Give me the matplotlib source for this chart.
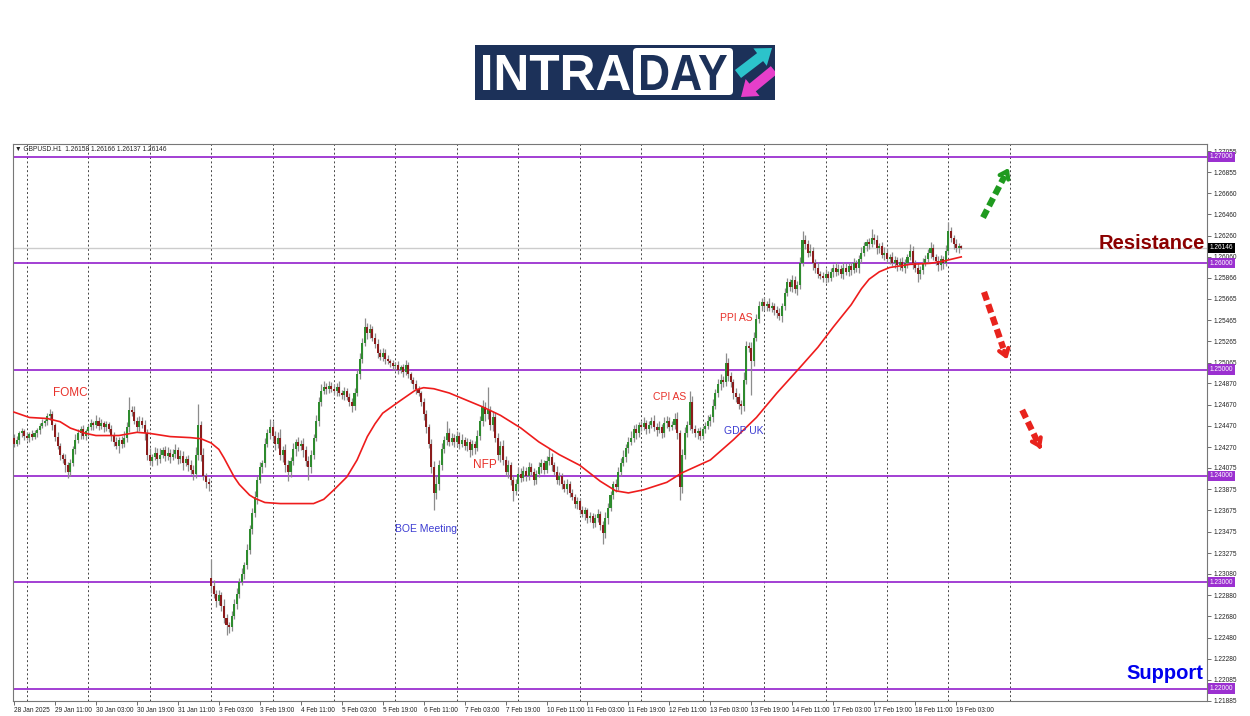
import numpy as np
import matplotlib
matplotlib.use("Agg")
import matplotlib.pyplot as plt
from matplotlib.patches import Rectangle, FancyBboxPatch, FancyArrow, PathPatch
from matplotlib.textpath import TextPath
from matplotlib.font_manager import FontProperties
from matplotlib.transforms import Affine2D, blended_transform_factory

# GBPUSD H1, 28 Jan 19:00 -> 19 Feb 2025
# prices are in pips above 1.20000 (1 pip = 0.0001)
BASE, PIP = 1.2, 0.0001

first_open = 436
gap_opens = {77: 304}  # Monday 3 Feb opened with a gap down

# closes, one row per trading day (first row = 28 Jan evening)
closes = [
    430, 434, 440, 442, 438,
    436, 439, 437, 440, 443, 447, 450, 452, 456, 458, 448, 437, 428, 420, 416, 410, 404, 412, 425, 434, 440, 444, 438, 442,
    446, 450, 448, 452, 447, 450, 446, 449, 444, 438, 432, 428, 434, 430, 436, 446, 462, 460, 452, 446, 452, 448, 440, 420,
    414, 418, 422, 416, 420, 424, 419, 422, 418, 421, 424, 416, 419, 412, 416, 410, 406, 402, 420, 448, 420, 400, 394, 392,
    296, 289, 282, 288, 278, 266, 260, 258, 268, 280, 289, 300, 308, 316, 330, 350, 365, 380, 396, 408, 412, 430, 440, 446,
    438, 430, 436, 420, 424, 410, 404, 414, 425, 432, 428, 430, 424, 414, 408, 420, 436, 452, 470, 480, 484, 482, 485, 482,
    480, 484, 478, 476, 480, 474, 470, 466, 478, 496, 510, 525, 540, 534, 538, 530, 524, 516, 512, 516, 510, 508, 506, 503,
    504, 500, 502, 498, 504, 496, 490, 486, 482, 478, 470, 458, 446, 430, 408, 384, 392, 410, 425, 434, 440, 432, 436, 432,
    438, 430, 434, 428, 432, 424, 430, 426, 438, 452, 465, 458, 462, 448, 455, 436, 420, 428, 415, 404, 410, 396, 386, 392,
    402, 398, 405, 400, 408, 404, 396, 402, 408, 412, 406, 414, 418, 410, 404, 396, 400, 392, 388, 392, 384, 380, 374, 376,
    368, 364, 368, 360, 362, 356, 360, 364, 354, 346, 360, 370, 382, 392, 390, 404, 412, 418, 426, 432, 436, 444, 440, 448,
    446, 450, 444, 448, 452, 446, 443, 446, 440, 450, 452, 446, 448, 454, 440, 390, 420, 440, 448, 470, 444, 440, 442, 438,
    444, 447, 452, 455, 466, 478, 486, 490, 488, 506, 494, 488, 478, 474, 468, 466, 490, 522, 520, 508, 530, 548, 560, 564,
    560, 562, 558, 560, 556, 553, 550, 560, 572, 582, 578, 584, 576, 580, 600, 622, 618, 610, 612, 600, 596, 590, 588, 586,
    590, 586, 592, 596, 592, 595, 590, 596, 592, 597, 594, 600, 596, 604, 610, 616, 620, 618, 624, 622, 614, 616, 608, 610,
    604, 606, 600, 603, 598, 601, 596, 600, 606, 612, 600, 596, 590, 594, 600, 604, 610, 614, 606, 602, 598, 604, 600, 612,
    630, 624, 618, 614, 616, 614.6,
]

# upper / lower wick length in pips beyond the body
wick_up = [
    3, 4, 2, 3, 2,
    3, 2, 4, 3, 2, 3, 4, 2, 3, 5, 3, 2, 4, 3, 2, 5, 3, 4, 3, 5, 4, 3, 4, 2,
    3, 4, 2, 5, 3, 4, 2, 3, 2, 4, 3, 5, 3, 4, 6, 5, 12, 4, 6, 3, 4, 3, 5, 4,
    6, 3, 5, 4, 6, 3, 4, 5, 3, 4, 6, 3, 5, 4, 3, 4, 5, 4, 7, 20, 4, 6, 3, 4,
    18, 6, 4, 5, 3, 6, 4, 3, 5, 4, 6, 4, 5, 3, 6, 4, 5, 6, 4, 5, 3, 6, 4, 8,
    6, 4, 5, 8, 4, 6, 5, 4, 6, 3, 5, 4, 6, 4, 5, 4, 3, 5, 4, 6, 5, 3, 4, 3,
    4, 3, 5, 3, 4, 3, 4, 3, 5, 4, 6, 5, 9, 4, 5, 3, 4, 5, 3, 4, 3, 4, 2, 3,
    3, 4, 2, 3, 5, 3, 2, 3, 4, 3, 2, 3, 4, 3, 5, 6, 8, 5, 6, 4, 12, 5, 4, 3,
    4, 3, 5, 3, 4, 3, 4, 3, 5, 4, 6, 5, 22, 4, 6, 5, 4, 5, 6, 4, 5, 3, 4, 5,
    6, 5, 4, 3, 5, 4, 3, 4, 5, 4, 3, 5, 8, 4, 3, 5, 4, 3, 4, 5, 3, 4, 3, 4,
    3, 4, 3, 2, 4, 3, 4, 5, 3, 4, 6, 5, 4, 3, 5, 4, 5, 6, 4, 5, 6, 4, 5, 3,
    4, 5, 3, 4, 3, 5, 4, 6, 3, 5, 4, 3, 4, 5, 6, 3, 5, 6, 4, 10, 5, 4, 3, 4,
    3, 4, 5, 3, 6, 4, 5, 6, 4, 10, 5, 4, 3, 5, 4, 3, 8, 5, 4, 6, 5, 4, 5, 3,
    4, 3, 5, 4, 3, 4, 5, 3, 5, 4, 3, 5, 4, 3, 6, 8, 5, 4, 6, 3, 4, 5, 3, 4,
    5, 3, 4, 3, 5, 4, 3, 5, 4, 3, 4, 5, 3, 4, 5, 4, 3, 4, 8, 4, 5, 3, 4, 5,
    4, 3, 5, 4, 3, 4, 5, 4, 3, 6, 4, 3, 4, 3, 5, 4, 3, 6, 4, 3, 5, 4, 3, 5,
    9, 4, 3, 5, 3, 1,
]
wick_dn = [
    3, 2, 4, 3, 4,
    2, 4, 3, 2, 3, 4, 2, 3, 4, 3, 5, 4, 3, 5, 4, 6, 6, 4, 3, 4, 3, 5, 3, 4,
    4, 3, 5, 3, 4, 3, 5, 4, 3, 5, 4, 3, 6, 4, 3, 4, 5, 4, 3, 5, 4, 3, 6, 5,
    4, 5, 3, 6, 4, 3, 5, 4, 6, 3, 4, 5, 4, 6, 3, 5, 4, 6, 4, 5, 6, 4, 5, 6,
    6, 4, 5, 3, 5, 4, 10, 6, 4, 3, 5, 4, 3, 5, 4, 3, 5, 4, 6, 3, 5, 4, 3, 5,
    5, 6, 4, 5, 7, 6, 9, 5, 4, 6, 5, 4, 6, 5, 12, 5, 4, 3, 5, 4, 3, 5, 4, 3,
    4, 5, 3, 4, 5, 3, 4, 6, 4, 3, 5, 4, 3, 5, 4, 3, 4, 5, 3, 4, 5, 3, 4, 3,
    3, 4, 3, 5, 3, 4, 3, 4, 5, 3, 4, 5, 6, 4, 5, 16, 6, 5, 4, 3, 5, 4, 3, 5,
    4, 5, 3, 4, 5, 6, 4, 5, 3, 4, 5, 6, 4, 5, 6, 4, 5, 7, 5, 4, 6, 5, 10, 4,
    5, 4, 3, 5, 4, 3, 5, 4, 3, 5, 4, 3, 4, 5, 3, 4, 5, 4, 3, 5, 4, 3, 4, 5,
    4, 3, 5, 4, 3, 5, 4, 3, 5, 10, 4, 5, 3, 4, 5, 3, 4, 3, 5, 4, 3, 4, 5, 3,
    4, 3, 5, 4, 3, 4, 5, 3, 4, 3, 5, 4, 3, 4, 5, 13, 6, 4, 3, 5, 4, 3, 5, 4,
    3, 4, 3, 5, 4, 3, 4, 5, 4, 3, 5, 4, 6, 4, 5, 8, 5, 4, 3, 32, 5, 3, 4, 5,
    4, 5, 3, 4, 5, 4, 3, 5, 4, 3, 4, 5, 4, 6, 4, 3, 5, 4, 3, 6, 5, 4, 3, 4,
    5, 4, 3, 5, 4, 3, 4, 5, 3, 4, 5, 3, 4, 5, 4, 3, 4, 5, 3, 4, 5, 4, 3, 5,
    4, 5, 3, 4, 5, 4, 3, 5, 4, 3, 5, 4, 8, 5, 4, 3, 4, 5, 3, 4, 5, 4, 5, 3,
    3, 4, 5, 3, 4, 1,
]

# moving average (red line), read at these bars
ma_bars = [0, 6, 13, 18, 22, 28, 32, 41, 48, 53, 61, 69, 73, 77, 80, 82, 84, 86, 88, 90,
           92, 94, 96, 98, 104, 112, 117, 121, 125, 130, 134, 138, 141, 144, 151, 157, 160, 164, 170, 177,
           183, 190, 198, 205, 213, 221, 229, 235, 240, 246, 255, 261, 272, 281, 290, 298, 307, 314, 320, 327,
           331, 334, 338, 342, 350, 358, 363, 370]
ma_vals = [460, 455, 454, 451, 445, 440, 438, 438, 441, 440, 437, 436, 435, 431, 425, 417, 408, 399, 392, 387,
           382, 379, 377, 375, 374, 374, 374, 378, 387, 399, 415, 437, 449, 459, 471, 481, 483, 482, 478, 471,
           465, 457, 445, 432, 420, 410, 395, 386, 384, 387, 394, 403, 415, 434, 455, 478, 502, 521, 540, 561,
           576, 585, 592, 596, 599, 600, 602, 606]

date_labels = ["28 Jan 2025", "29 Jan 11:00", "30 Jan 03:00", "30 Jan 19:00", "31 Jan 11:00",
               "3 Feb 03:00", "3 Feb 19:00", "4 Feb 11:00", "5 Feb 03:00", "5 Feb 19:00",
               "6 Feb 11:00", "7 Feb 03:00", "7 Feb 19:00", "10 Feb 11:00", "11 Feb 03:00",
               "11 Feb 19:00", "12 Feb 11:00", "13 Feb 03:00", "13 Feb 19:00", "14 Feb 11:00",
               "17 Feb 03:00", "17 Feb 19:00", "18 Feb 11:00", "19 Feb 03:00"]

price_ticks = [1.27055, 1.26855, 1.26660, 1.26460, 1.26260, 1.26060, 1.25866, 1.25665, 1.25465,
               1.25265, 1.25065, 1.24870, 1.24670, 1.24470, 1.24270, 1.24075, 1.23875, 1.23675,
               1.23475, 1.23275, 1.23080, 1.22880, 1.22680, 1.22480, 1.22280, 1.22085, 1.21885]
levels = [1.27, 1.26, 1.25, 1.24, 1.23, 1.22]
last_price = 1.26146
header = "▼ GBPUSD.H1  1.26158 1.26166 1.26137 1.26146"

RED, BLUE = "#e8312a", "#3c3cd2"
# (text, bar, pips, colour, size)
events = [("FOMC", 22, 478, RED, 8.5), ("BOE Meeting", 161, 350, BLUE, 7.5),
          ("NFP", 184, 410, RED, 8.5), ("CPI AS", 256, 474, RED, 7.5),
          ("GDP UK", 285, 442, BLUE, 7.5), ("PPI AS", 282, 549, RED, 7.5)]
# dashed scenario arrows: (bar0, pips0, bar1, pips1, colour)
arrows = [(378.5, 643, 389.1, 692, "#1f9a1f"),
          (378.9, 573, 388.3, 507, "#e8231d"),
          (393.8, 462, 401.6, 423, "#e8231d")]

# ---- candles ----
n = min(len(closes), len(wick_up), len(wick_dn))
c = np.array(closes[:n], float)
o = np.concatenate([[first_open], c[:-1]])
for i, v in gap_opens.items():
    o[i] = v
h = np.maximum(o, c) + np.array(wick_up[:n])
l = np.minimum(o, c) - np.array(wick_dn[:n])
o, c, h, l = [BASE + a * PIP for a in (o, c, h, l)]
x = np.arange(n)

fig = plt.figure(figsize=(12.5, 7.16), dpi=100)
ax = fig.add_axes([13 / 1250, 1 - 701 / 716, 1194 / 1250, 557 / 716])
ax.set_xlim(-0.4, 466)
ax.set_ylim(1.21883, 1.27122)

for b in range(5, 390, 24):
    ax.axvline(b, color="#444444", lw=0.7, ls=(0, (2, 2.5)), zorder=0.5)
ax.axhline(last_price, color="#cccccc", lw=1, zorder=0.6)
for lv in levels:
    ax.axhline(lv, color="#9b30d0", lw=1.3, zorder=1)

ax.vlines(x, l, h, color="#8c8c8c", lw=0.9, zorder=2)
body_lo = np.minimum(o, c)
body_h = np.maximum(np.abs(c - o), 0.4 * PIP)
cols = np.where(c >= o, "#2e8b2e", "#8b1c1c")
ax.bar(x, body_h, bottom=body_lo, width=0.8, color=cols, lw=0, zorder=3)

ax.plot(ma_bars, [BASE + v * PIP for v in ma_vals], color="#ee1c1c", lw=1.2, zorder=4,
        solid_joinstyle="round")

# axes styling
for s in ax.spines.values():
    s.set_color("#777777")
    s.set_linewidth(0.8)
TICKFONT = "Liberation Sans"
ax.yaxis.tick_right()
ax.set_yticks(price_ticks)
ax.set_yticklabels([f"{v:.5f}" for v in price_ticks], family=TICKFONT)
ax.set_xticks([16 * k for k in range(len(date_labels))])
ax.set_xticklabels(date_labels, ha="left", family=TICKFONT)
ax.tick_params(axis="both", length=3, width=0.6, color="#555555", labelsize=4.7,
               labelcolor="#222222", pad=1.5)

bt = blended_transform_factory(ax.transAxes, ax.transData)
for lv in levels:
    ax.text(1.0025, lv, f"{lv:.5f}", transform=bt, ha="left", va="center", fontsize=4.7,
            family=TICKFONT, color="white", clip_on=False, zorder=6,
            bbox=dict(boxstyle="square,pad=0.25", fc="#9b30d0", ec="none"))
ax.text(1.0025, last_price, f"{last_price:.5f}", transform=bt, ha="left", va="center",
        fontsize=4.7, family=TICKFONT, color="white", clip_on=False, zorder=6,
        bbox=dict(boxstyle="square,pad=0.25", fc="black", ec="none"))

ax.text(0.002, 0.996, header, transform=ax.transAxes, ha="left", va="top", fontsize=4.8,
        family=[TICKFONT, "DejaVu Sans"], color="#222222")

for txt, b, p, col, fs in events:
    ax.text(b, BASE + p * PIP, txt, color=col, fontsize=fs, ha="center", va="center",
            family="Liberation Sans", zorder=5)

for b0, p0, b1, p1, col in arrows:
    y0, y1 = BASE + p0 * PIP, BASE + p1 * PIP
    xm, ym = b0 + 0.8 * (b1 - b0), y0 + 0.8 * (y1 - y0)
    ax.plot([b0, xm], [y0, ym], color=col, lw=4.5, ls=(0, (1.4, 0.7)), solid_capstyle="butt",
            zorder=5)
    ax.annotate("", xy=(b1, y1), xytext=(xm, ym),
                arrowprops=dict(arrowstyle="->,head_width=0.35,head_length=0.5", color=col, lw=3),
                zorder=5)

ax.text(0.9983, 0.8205, "Resistance", transform=ax.transAxes, ha="right", va="center",
        fontsize=14.5, fontweight="bold", color="#8b0000", family="Liberation Sans")
ax.text(0.9966, 0.0485, "Support", transform=ax.transAxes, ha="right", va="center",
        fontsize=14.5, fontweight="bold", color="#0000ee", family="Liberation Sans")

# ---- INTRADAY logo (pixel coordinates inside a small axes) ----
lax = fig.add_axes([475 / 1250, 1 - 100 / 716, 300 / 1250, 55 / 716])
lax.set_xlim(0, 300)
lax.set_ylim(55, 0)
lax.axis("off")
NAVY = "#1c3159"
lax.add_patch(Rectangle((0, 0), 300, 55, fc=NAVY, ec="none"))
lax.add_patch(FancyBboxPatch((158, 3), 100, 47, boxstyle="round,pad=0,rounding_size=4",
                             fc="white", ec="none"))


def fit_text(s, x0, y0, x1, y1, color):
    tp = TextPath((0, 0), s, size=100, prop=FontProperties(family="Liberation Sans", weight="bold"))
    ext = tp.get_extents()
    tr = Affine2D().translate(-ext.x0, -ext.y0).scale((x1 - x0) / ext.width,
                                                      -(y1 - y0) / ext.height).translate(x0, y1)
    lax.add_patch(PathPatch(tr.transform_path(tp), fc=color, ec="none"))


fit_text("INTRA", 8, 10, 155, 45, "white")
fit_text("DAY", 166, 10, 252, 45, NAVY)
lax.add_patch(FancyArrow(263, 29, 34, -26, width=10, head_width=22, head_length=15,
                         length_includes_head=True, fc="#2cc3cb", ec="none"))
lax.add_patch(FancyArrow(299, 25, -33, 27, width=10, head_width=22, head_length=15,
                         length_includes_head=True, fc="#e63fca", ec="none"))

fig.savefig("out.png", dpi=100, facecolor="white")
